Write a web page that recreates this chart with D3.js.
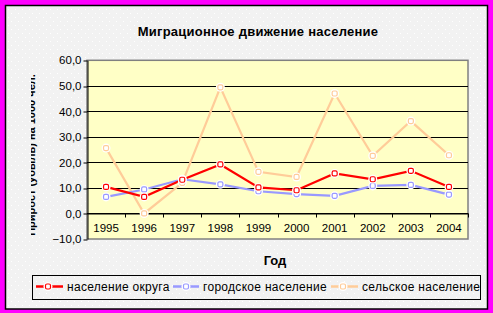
<!DOCTYPE html>
<html><head><meta charset="utf-8">
<script src="https://cdn.jsdelivr.net/npm/d3@7"></script>
<style>html,body{margin:0;padding:0;background:#ff00ff;} svg{display:block;font-family:"Liberation Sans",Arial,sans-serif;}</style>
</head><body>
<script>
const years = ["1995","1996","1997","1998","1999","2000","2001","2002","2003","2004"];
const okrug = [10.4, 6.5, 13.2, 19.2, 10.2, 9.1, 15.7, 13.4, 16.7, 10.4];
const gorod = [6.5, 9.4, 13.4, 11.4, 8.7, 7.6, 6.9, 10.8, 11.2, 7.4];
const selo  = [25.6, 0.0, 12.0, 49.4, 16.3, 14.3, 47.0, 22.6, 36.2, 22.8];
const seriesNames = ["население округа","городское население","сельское население"];
const seriesColors = ["#ff0000","#9999ff","#ffcc99"];
const yTicks = [-10,0,10,20,30,40,50,60];
const title = "Миграционное движение население";
const xTitle = "Год";
const yTitle = "Прирост (убыль) на 1000 чел.";

const W=493,H=313;
const svg=d3.select("body").append("svg").attr("width",W).attr("height",H);
const defs=svg.append("defs");
const pat=defs.append("pattern").attr("id","dots").attr("width",7).attr("height",8).attr("patternUnits","userSpaceOnUse");
pat.append("rect").attr("width",7).attr("height",8).attr("fill","#f2f2f2");
pat.append("rect").attr("x",1).attr("y",1).attr("width",1).attr("height",1).attr("fill","#ffffff");
pat.append("rect").attr("x",4).attr("y",5).attr("width",1).attr("height",1).attr("fill","#ffffff");
defs.append("clipPath").attr("id","yclip").append("rect").attr("x",31).attr("y",0).attr("width",20).attr("height",H);

svg.append("rect").attr("width",W).attr("height",H).attr("fill","#ff00ff");
svg.append("rect").attr("x",5.5).attr("y",5.5).attr("width",482).attr("height",303.5).attr("fill","url(#dots)").attr("stroke","#000").attr("stroke-width",1.5);

const L=87,R=468,T=60.3,B=239;
const x=d3.scaleBand().domain(years).range([L,R]);
const y=d3.scaleLinear().domain([-10,60]).range([B,T]);

svg.append("rect").attr("x",L).attr("y",T).attr("width",R-L).attr("height",B-T).attr("fill","#ffffc6").attr("stroke","#808080").attr("stroke-width",1.5);

// gridlines
svg.append("g").selectAll("line").data(yTicks.filter(d=>d>-10&&d<60)).join("line")
  .attr("x1",L).attr("x2",R).attr("y1",d=>Math.round(y(d))+0.5).attr("y2",d=>Math.round(y(d))+0.5)
  .attr("stroke","#000").attr("stroke-width",1);

// y axis
const yAxis=d3.axisLeft(y).tickValues(yTicks).tickSize(4).tickSizeOuter(0).tickFormat(d=>d3.format(".1f")(d).replace(".",","));
const gy=svg.append("g").attr("transform",`translate(${L+0.5},0)`).call(yAxis);
gy.select(".domain").attr("stroke","#000");
gy.selectAll(".tick line").attr("stroke","#000").attr("transform",d=>`translate(0,${Math.round(y(d))+0.5-y(d)})`);
gy.selectAll(".tick text").attr("font-size",11.5).attr("fill","#000").attr("x",-6).attr("font-family","Liberation Sans, Arial, sans-serif");

// x axis at zero
const xAxis=d3.axisBottom(x).tickSize(0).tickSizeOuter(0);
const gx=svg.append("g").attr("transform",`translate(0,${Math.round(y(0))+0.5})`).call(xAxis);
gx.select(".domain").attr("stroke","#000");
gx.selectAll(".tick text").attr("font-size",11.5).attr("fill","#000").attr("y",10).attr("dy","0.71em").attr("font-family","Liberation Sans, Arial, sans-serif");
// category boundary ticks
gx.append("g").selectAll("line").data(years).join("line")
  .attr("x1",d=>Math.round(x(d)+x.bandwidth())+0.5).attr("x2",d=>Math.round(x(d)+x.bandwidth())+0.5)
  .attr("y1",0).attr("y2",4).attr("stroke","#000");

// series
const data=[okrug,gorod,selo];
const line=d3.line().x((d,i)=>x(years[i])+x.bandwidth()/2).y(d=>y(d));
const order=[2,1,0];
order.forEach(k=>{
  svg.append("path").datum(data[k]).attr("d",line).attr("fill","none").attr("stroke",seriesColors[k]).attr("stroke-width",2.2);
});
order.forEach(k=>{
  const vals=data[k];
  const g=svg.append("g");
  g.selectAll("circle").data(vals).join("circle")
    .attr("cx",(d,i)=>x(years[i])+x.bandwidth()/2).attr("cy",d=>y(d)).attr("r",4.5).attr("fill","#fff");
  g.selectAll("rect").data(vals).join("rect")
    .attr("x",(d,i)=>x(years[i])+x.bandwidth()/2-2.5).attr("y",d=>y(d)-2.5).attr("width",5).attr("height",5).attr("rx",1.5)
    .attr("fill","#fff").attr("stroke",seriesColors[k]).attr("stroke-width",1.2);
});

// titles
svg.append("text").attr("x",258).attr("y",36).attr("text-anchor","middle").attr("font-size",13).attr("letter-spacing",0.25).attr("font-weight","bold").attr("fill","#000").text(title);
svg.append("text").attr("x",275).attr("y",265).attr("text-anchor","middle").attr("font-size",13).attr("font-weight","bold").attr("fill","#000").text(xTitle);
svg.append("g").attr("clip-path","url(#yclip)").append("text")
  .attr("transform","translate(35,155) rotate(-90)").attr("text-anchor","middle").attr("font-size",11).attr("font-weight","bold").attr("fill","#000").text(yTitle);

// legend
svg.append("rect").attr("x",32.5).attr("y",275.5).attr("width",448).attr("height",24).attr("fill","none").attr("stroke","#000").attr("stroke-width",1);
const legX=[[36,63,48,67],[173,199,186,203],[331,358,343,362]];
seriesNames.forEach((n,k)=>{
  const [a,b,m,t]=legX[k];
  svg.append("line").attr("x1",a).attr("x2",b).attr("y1",286.5).attr("y2",286.5).attr("stroke",seriesColors[k]).attr("stroke-width",2.5);
  svg.append("circle").attr("cx",m).attr("cy",286.5).attr("r",4.5).attr("fill","#fff");
  svg.append("rect").attr("x",m-2.5).attr("y",284).attr("width",5).attr("height",5).attr("rx",1.5).attr("fill","#fff").attr("stroke",seriesColors[k]).attr("stroke-width",1.2);
  svg.append("text").attr("x",t).attr("y",290.5).attr("font-size",12).attr("letter-spacing",0.3).attr("fill","#000").text(n);
});
</script>
</body></html>
